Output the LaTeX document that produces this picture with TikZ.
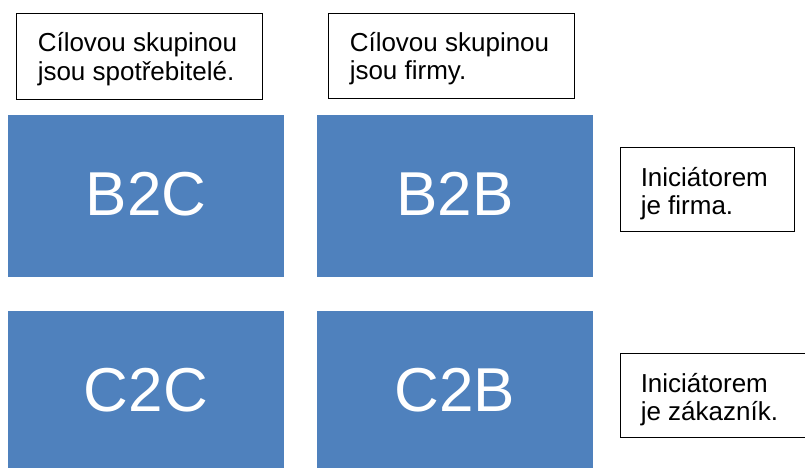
\documentclass[tikz,border=0pt]{standalone}
\usepackage{fontspec}
\setmainfont{Liberation Sans}
\usetikzlibrary{calc}
\definecolor{tileblue}{HTML}{4F81BD}
\tikzset{
  x=1pt, y=-1pt,
  tile/.style={fill=tileblue, draw=none, inner sep=0pt, text=white,
    minimum width=276pt, minimum height=162pt,
    text height=45pt, text depth=6pt,
    font=\fontsize{62}{70}\selectfont},
  frame/.style={draw=black, line width=0.9pt, fill=white, inner sep=0pt},
  line/.style={anchor=base west, inner sep=0pt,
    font=\fontsize{26}{29}\selectfont},
}
\begin{document}
\begin{tikzpicture}
\useasboundingbox (0,0) rectangle (805,468);

% blue quadrant tiles
\node[tile] (b2c) at (146,196) {B2C};
\node[tile] (b2b) at (455,196) {B2B};
\node[tile] (c2c) at (146,392) {C2C};
\node[tile] (c2b) at (455,392) {C2B};

% column captions
\node[frame, minimum width=246pt, minimum height=86pt] (colL) at (139,56) {};
\node[line] (colLa) at ($(colL.west)+(22,-4)$) {Cílovou skupinou};
\node[line] (colLb) at ($(colL.west)+(22,24.5)$) {jsou spotřebitelé.};

\node[frame, minimum width=246pt, minimum height=85pt] (colR) at (451,55.5) {};
\node[line] (colRa) at ($(colR.west)+(22,-4)$) {Cílovou skupinou};
\node[line] (colRb) at ($(colR.west)+(22,24.5)$) {jsou firmy.};

% row captions
\node[frame, minimum width=174pt, minimum height=84pt] (rowT) at (707,189) {};
\node[line] (rowTa) at ($(rowT.west)+(21,-3)$) {Iniciátorem};
\node[line] (rowTb) at ($(rowT.west)+(21,25.5)$) {je firma.};

\node[frame, minimum width=194pt, minimum height=84pt] (rowB) at (717,395) {};
\node[line] (rowBa) at ($(rowB.west)+(21,-3)$) {Iniciátorem};
\node[line] (rowBb) at ($(rowB.west)+(21,25.5)$) {je zákazník.};
\end{tikzpicture}
\end{document}
